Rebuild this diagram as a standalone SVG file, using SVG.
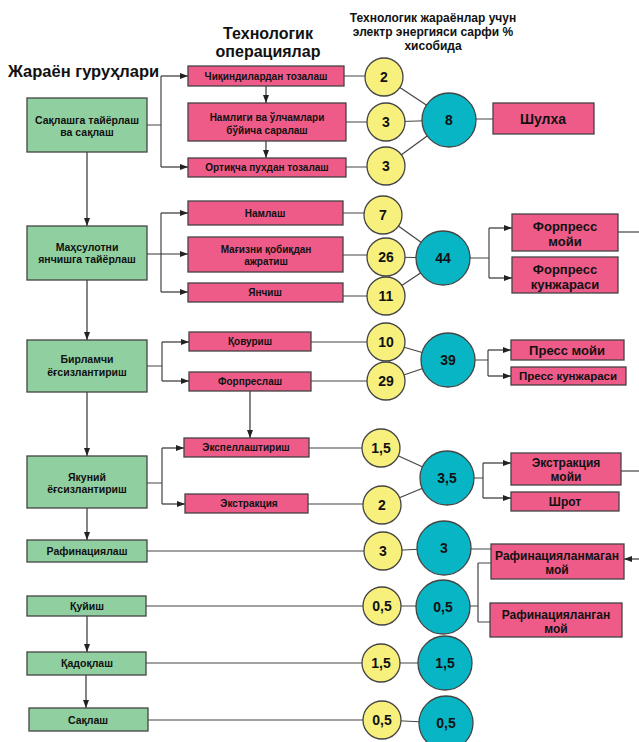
<svg xmlns="http://www.w3.org/2000/svg" width="639" height="742" viewBox="0 0 639 742">
<defs>
<marker id="ah" markerWidth="8" markerHeight="6" refX="8" refY="3" orient="auto" markerUnits="userSpaceOnUse">
<path d="M0,0 L8,3 L0,6 Z" fill="#222"/>
</marker>
</defs>
<style>
text{font-family:"Liberation Sans",Arial,sans-serif;font-weight:bold;fill:#111;text-anchor:middle}
.g{fill:#90cfa0;stroke:#444;stroke-width:1.3}
.p{fill:#ee5b89;stroke:#444;stroke-width:1.3}
.y{fill:#f8f07c;stroke:#444;stroke-width:1.3}
.b{fill:#08b5c5;stroke:#444;stroke-width:1.3}
.c{fill:none;stroke:#444;stroke-width:1.2}
.a{fill:none;stroke:#333;stroke-width:1.2;marker-end:url(#ah)}
.t11{font-size:10.5px}
.t10{font-size:10px}
.t13{font-size:13px}
.t12{font-size:12px}
.n{font-size:14px}
.h{font-size:16px}
.h2{font-size:12px}
</style>
<rect width="639" height="742" fill="#fff"/>

<g id="titles">
<text x="8" y="77" style="font-size:16.5px;text-anchor:start">Жараён гуруҳлари</text>
<text class="h" x="268" y="39">Технологик</text>
<text class="h" x="268" y="57">операциялар</text>
<text class="h2" x="433" y="22">Технологик жараёнлар учун</text>
<text class="h2" x="433" y="36">электр энергияси сарфи %</text>
<text class="h2" x="433" y="50">хисобида</text>
</g>

<g id="connectors">
<path class="c" d="M147,125 H161 M161,76 V167"/>
<path class="a" d="M161,76 H188"/>
<path class="a" d="M161,167 H188"/>
<path class="a" d="M266,86 V103"/>
<path class="a" d="M266,141 V158"/>
<path class="c" d="M344,76 H384 M346,122 H386 M346,167 H386"/>
<path class="c" d="M384,77 L449,120 M386,122 L449,120 M386,166 L449,120 M449,119 H493"/>
<path class="a" d="M87,152 V226"/>
<path class="c" d="M161,213 V292"/>
<path class="a" d="M161,213 H188"/>
<path class="a" d="M147,254 H188"/>
<path class="a" d="M161,292 H188"/>
<path class="c" d="M343,213 H383 M343,255 H386 M343,296 H386"/>
<path class="c" d="M383,215 L443,258 M386,257 L443,258 M386,296 L443,258 M443,258 H489 M489,228 V278"/>
<path class="a" d="M489,228 H512"/>
<path class="a" d="M489,278 H512"/>
<path class="c" d="M618,232 H639"/>
<path class="a" d="M87,280 V340"/>
<path class="c" d="M147,366 H162 M162,342 V381"/>
<path class="a" d="M162,342 H189"/>
<path class="a" d="M162,381 H189"/>
<path class="a" d="M250,391 V438"/>
<path class="c" d="M311,342 H386 M311,381 H386"/>
<path class="c" d="M386,342 L448,360 M386,381 L448,360 M448,360 H488 M488,350 V376"/>
<path class="a" d="M488,350 H511"/>
<path class="a" d="M488,376 H511"/>
<path class="a" d="M87,392 V456"/>
<path class="c" d="M147,483 H162 M162,448 V504"/>
<path class="a" d="M162,448 H184"/>
<path class="a" d="M162,504 H185"/>
<path class="c" d="M309,448 H381 M308,504 H382"/>
<path class="c" d="M381,448 L447,478 M382,505 L447,478 M447,478 H483 M483,463 V498"/>
<path class="a" d="M483,463 H511"/>
<path class="a" d="M483,498 H511"/>
<path class="c" d="M621,471 H639"/>
<path class="a" d="M87,508 V540"/>
<path class="c" d="M147,551 H383 M383,551 L444,548 M444,549 H491"/>
<path class="a" d="M639,559 H624"/>
<path class="c" d="M146,606 H382 M382,606 H443 M443,606 H478 M478,563 V622 M478,563 H491 M478,622 H490"/>
<path class="a" d="M87,616 V652"/>
<path class="c" d="M146,663 H445"/>
<path class="a" d="M86,675 V708"/>
<path class="c" d="M148,720 H382 M382,720 L446,723"/>
</g>

<g id="n-saqlashga"><rect class="g" x="27" y="98" width="120" height="54"/><text class="t11" x="87" y="124">Сақлашга тайёрлаш</text><text class="t11" x="87" y="136">ва сақлаш</text></g>
<g id="n-mahsulot"><rect class="g" x="27" y="226" width="120" height="54"/><text class="t11" x="87" y="251">Маҳсулотни</text><text class="t11" x="87" y="263">янчишга тайёрлаш</text></g>
<g id="n-birlamchi"><rect class="g" x="27" y="340" width="120" height="52"/><text class="t11" x="87" y="363">Бирламчи</text><text class="t11" x="87" y="376">ёғсизлантириш</text></g>
<g id="n-yakuniy"><rect class="g" x="27" y="456" width="120" height="52"/><text class="t11" x="87" y="481">Якуний</text><text class="t11" x="87" y="493">ёғсизлантириш</text></g>
<g id="n-rafin"><rect class="g" x="27" y="540" width="120" height="22"/><text class="t11" x="87" y="555">Рафинациялаш</text></g>
<g id="n-quyish"><rect class="g" x="27" y="596" width="119" height="20"/><text class="t11" x="87" y="610">Қуйиш</text></g>
<g id="n-qadoq"><rect class="g" x="27" y="652" width="119" height="23"/><text class="t11" x="87" y="667">Қадоқлаш</text></g>
<g id="n-saqlash"><rect class="g" x="29" y="708" width="119" height="23"/><text class="t11" x="88" y="724">Сақлаш</text></g>

<g id="n-chiqindi"><rect class="p" x="188" y="66" width="156" height="20"/><text class="t10" x="266" y="80">Чиқиндилардан тозалаш</text></g>
<g id="n-namligi"><rect class="p" x="188" y="103" width="158" height="38"/><text class="t10" x="267" y="121">Намлиги ва ўлчамлари</text><text class="t10" x="267" y="134">бўйича саралаш</text></g>
<g id="n-ortiqcha"><rect class="p" x="188" y="158" width="158" height="19"/><text class="t10" x="267" y="171">Ортиқча пухдан тозалаш</text></g>
<g id="n-namlash"><rect class="p" x="188" y="201" width="155" height="24"/><text class="t10" x="265" y="217">Намлаш</text></g>
<g id="n-magizni"><rect class="p" x="188" y="237" width="155" height="35"/><text class="t10" x="266" y="253">Мағизни қобиқдан</text><text class="t10" x="266" y="265">ажратиш</text></g>
<g id="n-yanchish"><rect class="p" x="188" y="283" width="155" height="19"/><text class="t10" x="265" y="296">Янчиш</text></g>
<g id="n-qovurish"><rect class="p" x="189" y="332" width="122" height="19"/><text class="t10" x="250" y="345">Қовуриш</text></g>
<g id="n-forpreslash"><rect class="p" x="189" y="372" width="122" height="19"/><text class="t10" x="250" y="385">Форпреслаш</text></g>
<g id="n-ekspell"><rect class="p" x="184" y="438" width="125" height="19"/><text class="t10" x="246" y="451">Экспеллаштириш</text></g>
<g id="n-ekstraksiya"><rect class="p" x="185" y="494" width="123" height="19"/><text class="t10" x="249" y="507">Экстракция</text></g>

<g id="n-y2"><circle class="y" cx="384" cy="77" r="19"/><text class="n" x="384" y="82">2</text></g>
<g id="n-y3a"><circle class="y" cx="386" cy="122" r="19"/><text class="n" x="386" y="127">3</text></g>
<g id="n-y3b"><circle class="y" cx="386" cy="166" r="19"/><text class="n" x="386" y="171">3</text></g>
<g id="n-y7"><circle class="y" cx="383" cy="215" r="19"/><text class="n" x="383" y="220">7</text></g>
<g id="n-y26"><circle class="y" cx="386" cy="257" r="19"/><text class="n" x="386" y="262">26</text></g>
<g id="n-y11"><circle class="y" cx="386" cy="296" r="19"/><text class="n" x="386" y="301">11</text></g>
<g id="n-y10"><circle class="y" cx="386" cy="342" r="19"/><text class="n" x="386" y="347">10</text></g>
<g id="n-y29"><circle class="y" cx="386" cy="381" r="19"/><text class="n" x="386" y="386">29</text></g>
<g id="n-y15"><circle class="y" cx="381" cy="448" r="19"/><text class="n" x="381" y="453">1,5</text></g>
<g id="n-y2b"><circle class="y" cx="382" cy="505" r="19"/><text class="n" x="382" y="510">2</text></g>
<g id="n-y3c"><circle class="y" cx="383" cy="551" r="19"/><text class="n" x="383" y="556">3</text></g>
<g id="n-y05a"><circle class="y" cx="382" cy="606" r="19"/><text class="n" x="382" y="611">0,5</text></g>
<g id="n-y15b"><circle class="y" cx="381" cy="663" r="19"/><text class="n" x="381" y="668">1,5</text></g>
<g id="n-y05b"><circle class="y" cx="382" cy="720" r="19"/><text class="n" x="382" y="725">0,5</text></g>

<g id="n-b8"><circle class="b" cx="449" cy="120" r="27"/><text class="n" x="449" y="125">8</text></g>
<g id="n-b44"><circle class="b" cx="443" cy="258" r="27"/><text class="n" x="443" y="263">44</text></g>
<g id="n-b39"><circle class="b" cx="448" cy="360" r="27"/><text class="n" x="448" y="365">39</text></g>
<g id="n-b35"><circle class="b" cx="447" cy="478" r="27"/><text class="n" x="447" y="483">3,5</text></g>
<g id="n-b3"><circle class="b" cx="444" cy="548" r="27"/><text class="n" x="444" y="553">3</text></g>
<g id="n-b05a"><circle class="b" cx="443" cy="607" r="27"/><text class="n" x="443" y="612">0,5</text></g>
<g id="n-b15"><circle class="b" cx="445" cy="663" r="27"/><text class="n" x="445" y="668">1,5</text></g>
<g id="n-b05b"><circle class="b" cx="446" cy="723" r="27"/><text class="n" x="446" y="728">0,5</text></g>

<g id="n-shulxa"><rect class="p" x="493" y="103" width="101" height="31"/><text x="543" y="124" style="font-size:14px">Шулха</text></g>
<g id="n-forpress-moyi"><rect class="p" x="512" y="214" width="106" height="37"/><text class="t13" x="565" y="231">Форпресс</text><text class="t13" x="565" y="246">мойи</text></g>
<g id="n-forpress-kunj"><rect class="p" x="512" y="257" width="106" height="36"/><text class="t13" x="565" y="274">Форпресс</text><text class="t13" x="565" y="289">кунжараси</text></g>
<g id="n-press-moyi"><rect class="p" x="511" y="340" width="113" height="20"/><text class="t13" x="567" y="355">Пресс мойи</text></g>
<g id="n-press-kunj"><rect class="p" x="511" y="367" width="115" height="18"/><text x="568" y="380" style="font-size:11.5px">Пресс кунжараси</text></g>
<g id="n-ekstr-moyi"><rect class="p" x="511" y="453" width="110" height="32"/><text class="t12" x="566" y="467">Экстракция</text><text class="t12" x="566" y="481">мойи</text></g>
<g id="n-shrot"><rect class="p" x="511" y="492" width="108" height="19"/><text class="t12" x="565" y="506">Шрот</text></g>
<g id="n-rafin-man"><rect class="p" x="491" y="544" width="133" height="35"/><text class="t12" x="557" y="560">Рафинацияланмаган</text><text class="t12" x="557" y="574">мой</text></g>
<g id="n-rafin-lan"><rect class="p" x="490" y="603" width="132" height="34"/><text class="t12" x="556" y="619">Рафинацияланган</text><text class="t12" x="556" y="633">мой</text></g>
</svg>
